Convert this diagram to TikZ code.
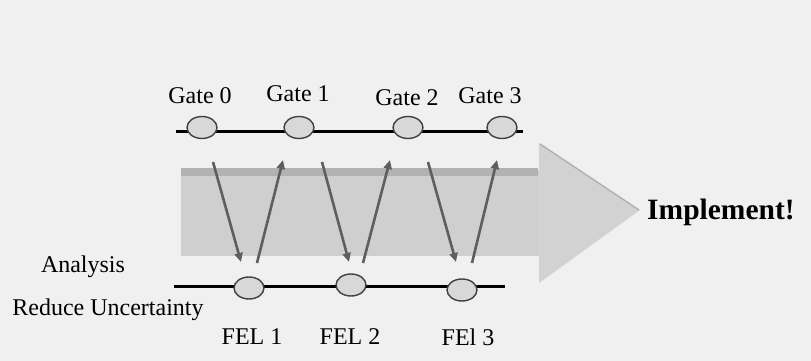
\documentclass[tikz,border=0pt]{standalone}
\usepackage{fontspec}
\setmainfont{Liberation Serif}
\usetikzlibrary{shapes.geometric,arrows.meta}
\definecolor{bgcol}{HTML}{F0F0F0}
\definecolor{bandcol}{HTML}{CFCFCF}
\definecolor{bandtop}{HTML}{B2B2B2}
\definecolor{headcol}{HTML}{D2D2D2}
\definecolor{milestone}{HTML}{D8D8D8}
\definecolor{flowcol}{HTML}{5E5E5E}
\tikzset{
  x=1pt, y=-1pt,
  label text/.style={font=\fontsize{24}{26}\selectfont, inner sep=0pt, anchor=center},
  timeline/.style={line width=3pt, black},
  milestone/.style={ellipse, draw=black!75, line width=1.4pt, fill=milestone,
                    minimum width=30pt, minimum height=22pt, inner sep=0pt},
  flow/.style={draw=flowcol, line width=2.6pt,
               -{Triangle[length=9pt,width=8pt]}},
}
\begin{document}
\begin{tikzpicture}
  % canvas
  \fill[bgcol] (0,0) rectangle (811,361);
  \useasboundingbox (0,0) rectangle (811,361);

  % big process arrow
  \fill[bandcol] (181,170) -- (539,170) -- (539,256) -- (181,256) -- cycle;
  \fill[headcol] (539,143) -- (640,210) -- (539,283) -- cycle;
  \fill[bandtop] (181,168) rectangle (538,176);
  \draw[black!30, line width=1.5pt] (540,144) -- (639,210);
  \node[font=\fontsize{29.5}{31}\selectfont\bfseries, anchor=west, inner sep=0pt]
    (impl) at (647,212) {Implement!};

  % gate timeline
  \coordinate (gl) at (176,131.5);
  \coordinate (gr) at (523,131.5);
  \draw[timeline] (gl) -- (gr);
  \node[milestone] (g0) at (202,127.5) {};
  \node[milestone] (g1) at (299,127.5) {};
  \node[milestone] (g2) at (408,127.5) {};
  \node[milestone] (g3) at (502,127.5) {};
  \node[label text] (t0) at (200,96) {Gate 0};
  \node[label text] (t1) at (298,94) {Gate 1};
  \node[label text] (t2) at (407,98) {Gate 2};
  \node[label text] (t3) at (490,96) {Gate 3};

  % front-end loading timeline
  \coordinate (fl) at (174,286);
  \coordinate (fr) at (505,286);
  \draw[timeline] (fl) -- (fr);
  \node[milestone] (f1) at (249,288) {};
  \node[milestone] (f2) at (351,285) {};
  \node[milestone] (f3) at (462,290) {};
  \node[label text] (l1) at (252,337) {FEL 1};
  \node[label text] (l2) at (350,337) {FEL 2};
  \node[label text] (l3) at (468,337) {FEl 3};

  \node[label text] (ana) at (83,267) {Analysis};
  \node[label text] (red) at (108,310) {Reduce Uncertainty};

  % hand-offs between gates and FEL phases
  \coordinate (d1s) at (213,162);   \coordinate (d1e) at (241,262);
  \coordinate (u1s) at (257,263);   \coordinate (u1e) at (283,160);
  \coordinate (d2s) at (322,162);   \coordinate (d2e) at (349,262);
  \coordinate (u2s) at (363,263);   \coordinate (u2e) at (390,160);
  \coordinate (d3s) at (428,162);   \coordinate (d3e) at (456,262);
  \coordinate (u3s) at (472,263);   \coordinate (u3e) at (497,160);
  \draw[flow] (d1s) -- (d1e);
  \draw[flow] (u1s) -- (u1e);
  \draw[flow] (d2s) -- (d2e);
  \draw[flow] (u2s) -- (u2e);
  \draw[flow] (d3s) -- (d3e);
  \draw[flow] (u3s) -- (u3e);
\end{tikzpicture}
\end{document}
